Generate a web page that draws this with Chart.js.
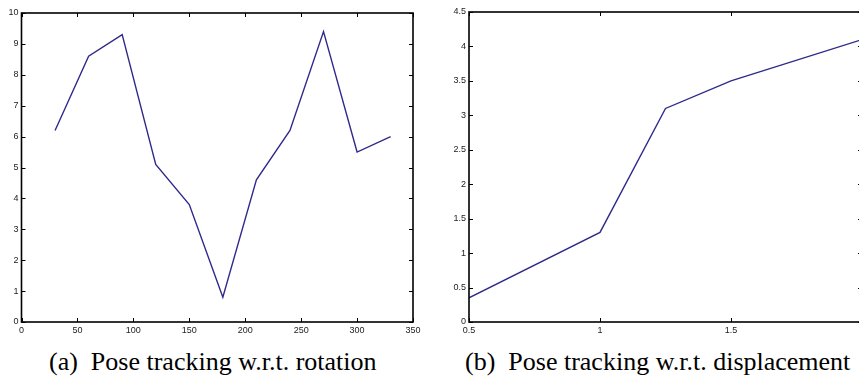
<!DOCTYPE html>
<html>
<head>
<meta charset="utf-8">
<script src="https://cdn.jsdelivr.net/npm/chart.js@4.4.1/dist/chart.umd.min.js"></script>
<style>
  html, body { margin: 0; padding: 0; background: #fff; overflow: hidden; }
  body { width: 859px; height: 381px; position: relative; }
  canvas { position: absolute; top: 0; }
  .cap { position: absolute; top: 349px; font-family: "Liberation Serif", "Times New Roman", serif;
         font-size: 26px; color: #000; white-space: nowrap; line-height: 26px; }
  .cap span { margin-right: 13px; }
</style>
</head>
<body>
<canvas id="rotChart" width="430" height="340" style="left:0"></canvas>
<canvas id="dispChart" width="440" height="340" style="left:430px"></canvas>
<div class="cap" style="left:49px"><span>(a)</span>Pose tracking w.r.t. rotation</div>
<div class="cap" style="left:465px"><span>(b)</span>Pose tracking w.r.t. displacement</div>

<script>
// --- data ---
var rotAngle = [30, 60, 90, 120, 150, 180, 210, 240, 270, 300, 330];
var rotError = [6.2, 8.6, 9.3, 5.1, 3.8, 0.8, 4.6, 6.2, 9.4, 5.5, 6.0];

var dispAmount = [0.5, 1, 1.25, 1.5, 2];
var dispError  = [0.35, 1.3, 3.1, 3.5, 4.1];

var lineColor = "rgb(46,42,140)";

// matlab style box with ticks pointing inwards
var boxPlugin = {
    id: 'matlabBox',
    afterDraw: function(chart) {
        var c = chart.ctx;
        var a = chart.chartArea;
        var xs = chart.scales.x, ys = chart.scales.y;
        c.save();
        c.strokeStyle = '#000';
        c.lineWidth = 1;
        xs.ticks.forEach(function(t) {
            var px = Math.round(xs.getPixelForValue(t.value)) + 0.5;
            c.beginPath();
            c.moveTo(px, a.bottom); c.lineTo(px, a.bottom - 4);
            c.moveTo(px, a.top); c.lineTo(px, a.top + 4);
            c.stroke();
        });
        ys.ticks.forEach(function(t) {
            var py = Math.round(ys.getPixelForValue(t.value)) + 0.5;
            c.beginPath();
            c.moveTo(a.left, py); c.lineTo(a.left + 4, py);
            c.moveTo(a.right, py); c.lineTo(a.right - 4, py);
            c.stroke();
        });
        c.lineWidth = 1.6;
        c.strokeRect(a.left, a.top, a.right - a.left, a.bottom - a.top);
        c.restore();
    }
};

function plainNum(v) { return String(v); }

function makeChart(id, xs, ys, xMin, xMax, xStep, yMax, yStep, pad) {
    var pts = xs.map(function(x, i) { return {x: x, y: ys[i]}; });
    return new Chart(document.getElementById(id), {
        type: 'line',
        data: {
            datasets: [{
                data: pts,
                borderColor: lineColor,
                borderWidth: 1.4,
                pointRadius: 0,
                tension: 0,
                fill: false
            }]
        },
        options: {
            responsive: false,
            animation: false,
            layout: { padding: { left: 0, top: pad.top, right: pad.right, bottom: 0 } },
            scales: {
                x: {
                    type: 'linear',
                    min: xMin, max: xMax,
                    grid: { display: false, drawTicks: false },
                    border: { display: false },
                    ticks: {
                        stepSize: xStep,
                        color: '#222',
                        padding: 3,
                        maxRotation: 0,
                        callback: plainNum,
                        font: { family: 'Liberation Sans', size: 9 }
                    },
                    afterFit: function(s) { s.height = 18; }
                },
                y: {
                    min: 0, max: yMax,
                    grid: { display: false, drawTicks: false },
                    border: { display: false },
                    ticks: {
                        stepSize: yStep,
                        color: '#222',
                        padding: 3,
                        callback: plainNum,
                        font: { family: 'Liberation Sans', size: 9 }
                    },
                    afterFit: function(s) { s.width = pad.yw; }
                }
            },
            plugins: {
                legend: { display: false },
                tooltip: { enabled: false }
            }
        },
        plugins: [boxPlugin]
    });
}

makeChart('rotChart', rotAngle, rotError, 0, 350, 50, 10, 1,
    { top: 13, right: 17, yw: 21.5 });
makeChart('dispChart', dispAmount, dispError, 0.5, 2, 0.5, 4.5, 0.5,
    { top: 12, right: 8, yw: 39 });
</script>
</body>
</html>
